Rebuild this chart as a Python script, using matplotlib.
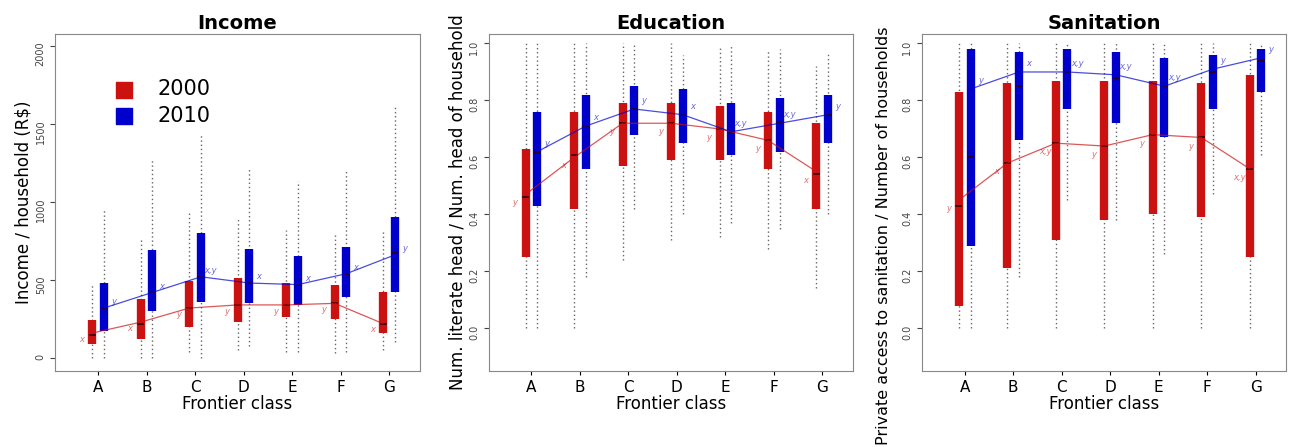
import matplotlib
matplotlib.use('Agg')
import matplotlib.pyplot as plt

classes = ["A", "B", "C", "D", "E", "F", "G"]

# Income (R$)
inc_red_q = [(90, 245), (120, 380), (200, 490), (230, 510), (260, 480), (250, 470), (160, 420)]
inc_red_med = [150, 220, 320, 340, 340, 350, 220]
inc_red_wh = [(0, 470), (0, 760), (40, 930), (50, 900), (40, 820), (30, 790), (50, 820)]
inc_red_line = [160, 230, 320, 340, 340, 350, 220]
inc_blue_q = [(170, 480), (300, 690), (360, 800), (350, 700), (340, 650), (390, 710), (420, 900)]
inc_blue_med = [320, 420, 520, 480, 470, 540, 670]
inc_blue_wh = [(0, 960), (0, 1270), (0, 1440), (80, 1210), (40, 1130), (40, 1210), (100, 1610)]
inc_blue_line = [320, 420, 520, 480, 470, 540, 660]
inc_red_lab = ["x", "x", "y", "y", "y", "y", "x"]
inc_blue_lab = ["y", "x", "x,y", "x", "x", "x", "y"]

# Education
edu_red_q = [(0.25, 0.63), (0.42, 0.76), (0.57, 0.79), (0.59, 0.79), (0.59, 0.78), (0.56, 0.76), (0.42, 0.72)]
edu_red_med = [0.46, 0.61, 0.72, 0.72, 0.70, 0.66, 0.54]
edu_red_wh = [(0, 1), (0, 1), (0.24, 1), (0.31, 1), (0.32, 0.99), (0.28, 0.98), (0.14, 0.92)]
edu_red_line = [0.47, 0.60, 0.72, 0.72, 0.70, 0.66, 0.55]
edu_blue_q = [(0.43, 0.76), (0.56, 0.82), (0.68, 0.85), (0.65, 0.84), (0.61, 0.79), (0.62, 0.81), (0.65, 0.82)]
edu_blue_med = [0.62, 0.71, 0.77, 0.75, 0.69, 0.72, 0.75]
edu_blue_wh = [(0, 1), (0.18, 1), (0.42, 1), (0.40, 0.96), (0.37, 0.99), (0.35, 0.98), (0.40, 0.97)]
edu_blue_line = [0.62, 0.71, 0.77, 0.75, 0.69, 0.72, 0.75]
edu_red_lab = ["y", "x", "y", "y", "y", "y", "x"]
edu_blue_lab = ["y", "x", "y", "x", "x,y", "x,y", "y"]

# Sanitation
san_red_q = [(0.08, 0.83), (0.21, 0.86), (0.31, 0.87), (0.38, 0.87), (0.40, 0.87), (0.39, 0.86), (0.25, 0.89)]
san_red_med = [0.43, 0.58, 0.65, 0.64, 0.68, 0.67, 0.56]
san_red_wh = [(0, 1), (0, 1), (0, 1), (0, 1), (0, 1), (0, 1), (0, 1)]
san_red_line = [0.45, 0.58, 0.65, 0.64, 0.68, 0.67, 0.56]
san_blue_q = [(0.29, 0.98), (0.66, 0.97), (0.77, 0.98), (0.72, 0.97), (0.67, 0.95), (0.77, 0.96), (0.83, 0.98)]
san_blue_med = [0.60, 0.85, 0.90, 0.88, 0.85, 0.90, 0.94]
san_blue_wh = [(0, 1), (0.18, 1), (0.45, 1), (0.38, 1), (0.26, 1), (0.47, 1), (0.61, 1)]
san_blue_line = [0.84, 0.90, 0.90, 0.89, 0.85, 0.91, 0.95]
san_red_lab = ["y", "x", "x,y", "y", "y", "y", "x,y"]
san_blue_lab = ["y", "x", "x,y", "x,y", "x,y", "y", "y"]

RED = "#cc1111"
BLUE = "#0000cc"
OFF = 0.12


def draw_panel(ax, rq, rmed, rwh, rline, rlab, bq, bmed, bwh, bline, blab, dy):
    for off, q, med, wh, line, lab, col in (
        (-OFF, rq, rmed, rwh, rline, rlab, RED),
        (OFF, bq, bmed, bwh, bline, blab, BLUE),
    ):
        for i in range(len(classes)):
            x = i + 1 + off
            ax.plot([x, x], wh[i], ls=(0, (1, 2)), color="#666666", lw=1.0, zorder=1)
            ax.plot([x, x], q[i], color=col, lw=6, solid_capstyle="butt", zorder=2)
            ax.plot([x - 0.05, x + 0.05], [med[i], med[i]], color="#330000", lw=1.2, zorder=3)
        xs = [i + 1 + off for i in range(len(classes))]
        ax.plot(xs, line, color=col, lw=0.9, alpha=0.7, zorder=4)
        for i in range(len(classes)):
            tx = xs[i] - 0.22 if col == RED else xs[i] + 0.2
            ax.text(tx, line[i] - dy if col == RED else line[i] + dy, lab[i],
                    color=col, alpha=0.6, fontsize=6, style="italic",
                    ha="center", va="center")
    ax.set_xticks(range(1, 8))
    ax.set_xticklabels(classes, fontsize=11)
    ax.set_xlim(0.12, 7.63)
    ax.set_xlabel("Frontier class", fontsize=12, labelpad=0)
    ax.tick_params(axis="y", labelrotation=90, labelsize=7, colors="#444444")
    ax.tick_params(axis="x", length=3)
    for s in ax.spines.values():
        s.set_color("#888888")


fig, axes = plt.subplots(1, 3, figsize=(12.9, 4.47), dpi=100)
plt.subplots_adjust(left=0.043, right=0.997, top=0.925, bottom=0.17, wspace=0.19)

ax = axes[0]
draw_panel(ax, inc_red_q, inc_red_med, inc_red_wh, inc_red_line, inc_red_lab,
           inc_blue_q, inc_blue_med, inc_blue_wh, inc_blue_line, inc_blue_lab, 40)
ax.set_ylim(-83, 2077)
ax.set_yticks([0, 500, 1000, 1500, 2000])
ax.set_title("Income", fontsize=14, fontweight="bold", pad=3)
ax.set_ylabel("Income / household (R$)", fontsize=12, labelpad=2)
h1 = ax.scatter([], [], marker="s", s=120, color=RED)
h2 = ax.scatter([], [], marker="s", s=120, color=BLUE)
ax.legend([h1, h2], ["2000", "2010"], loc="upper left", frameon=False, fontsize=15,
          bbox_to_anchor=(0.08, 0.92), handletextpad=0.6, labelspacing=0.3)

ax = axes[1]
draw_panel(ax, edu_red_q, edu_red_med, edu_red_wh, edu_red_line, edu_red_lab,
           edu_blue_q, edu_blue_med, edu_blue_wh, edu_blue_line, edu_blue_lab, 0.03)
ax.set_ylim(-0.15, 1.035)
ax.set_yticks([0.0, 0.2, 0.4, 0.6, 0.8, 1.0])
ax.set_title("Education", fontsize=14, fontweight="bold", pad=3)
ax.set_ylabel("Num. literate head / Num. head of household", fontsize=12, labelpad=2)

ax = axes[2]
draw_panel(ax, san_red_q, san_red_med, san_red_wh, san_red_line, san_red_lab,
           san_blue_q, san_blue_med, san_blue_wh, san_blue_line, san_blue_lab, 0.03)
ax.set_ylim(-0.15, 1.035)
ax.set_yticks([0.0, 0.2, 0.4, 0.6, 0.8, 1.0])
ax.set_title("Sanitation", fontsize=14, fontweight="bold", pad=3)
ax.set_ylabel("Private access to sanitation / Number of households", fontsize=11.5, labelpad=2)
ax.yaxis.set_label_coords(-0.085, 0.4)

fig.savefig("out.png")
